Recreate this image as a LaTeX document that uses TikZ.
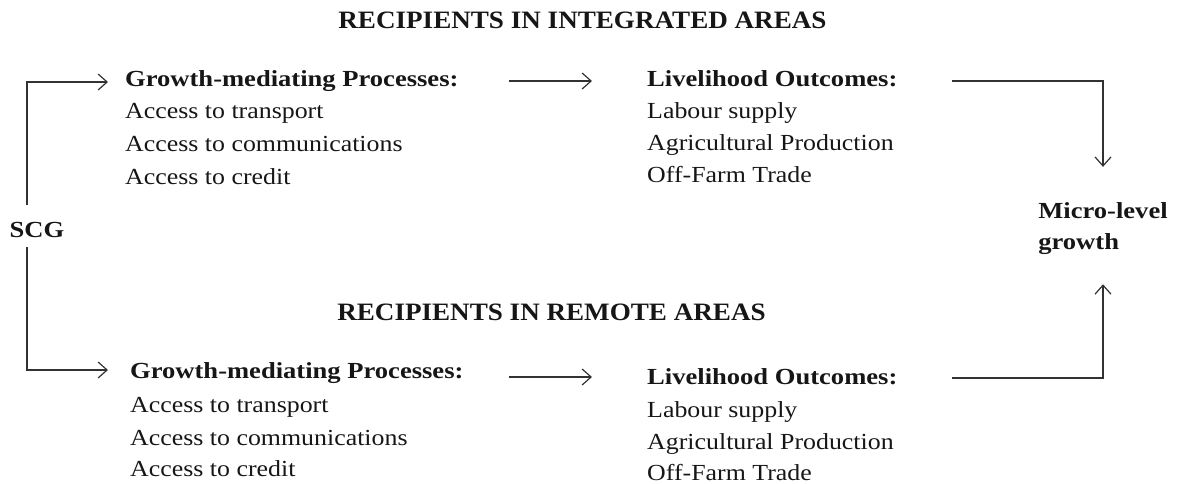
\documentclass[tikz,border=0pt]{standalone}
\usepackage{fontspec}
\setmainfont{Liberation Serif}[FakeStretch=1.125,BoldFeatures={FakeStretch=1.155}]
\newfontfamily\titlefont{Liberation Serif}[FakeStretch=1.084]
\usetikzlibrary{arrows.meta}
\definecolor{txt}{RGB}{22,22,22}
\definecolor{ln}{RGB}{50,50,50}
\tikzset{
  body/.style={anchor=base west,inner sep=0pt,text=txt,font=\fontsize{23}{28}\selectfont},
  head/.style={body,font=\fontsize{23}{28}\selectfont\bfseries},
  ttl/.style={anchor=base,inner sep=0pt,text=txt,font=\titlefont\fontsize{25}{30}\selectfont\bfseries},
  arr/.style={draw=ln,line width=1.3pt,-{Straight Barb[length=9pt,width=16pt,line width=1.2pt]}},
}
\begin{document}
\begin{tikzpicture}[x=1pt,y=-1pt]
\useasboundingbox (0,0) rectangle (1177,484);
% titles
\node[ttl] (t1) at (582.5,29) {RECIPIENTS IN INTEGRATED AREAS};
\node[ttl] (t2) at (551.5,320) {RECIPIENTS IN REMOTE AREAS};
% SCG
\node[head,anchor=base] (scg) at (37,237) {SCG};
\coordinate (vx) at (27,0);
% top row
\node[head] (gm1) at (125,87) {Growth-mediating Processes:};
\node[body] (gm1a) at (125,119) {Access to transport};
\node[body] (gm1b) at (125,151) {Access to communications};
\node[body] (gm1c) at (125,184) {Access to credit};
\node[head] (lo1) at (647,87) {Livelihood Outcomes:};
\node[body] (lo1a) at (647,118) {Labour supply};
\node[body] (lo1b) at (647,150) {Agricultural Production};
\node[body] (lo1c) at (647,182) {Off-Farm Trade};
% bottom row
\node[head] (gm2) at (130,378) {Growth-mediating Processes:};
\node[body] (gm2a) at (130,412) {Access to transport};
\node[body] (gm2b) at (130,445) {Access to communications};
\node[body] (gm2c) at (130,476) {Access to credit};
\node[head] (lo2) at (647,384) {Livelihood Outcomes:};
\node[body] (lo2a) at (647,417) {Labour supply};
\node[body] (lo2b) at (647,449) {Agricultural Production};
\node[body] (lo2c) at (647,480) {Off-Farm Trade};
% micro-level growth
\node[head,anchor=base] (mlA) at (1103,218) {Micro-level};
\node[head] (mlB) at ([yshift=-31pt]mlA.base west) {growth};
% connectors
\draw[arr,shorten <=17pt,shorten >=17pt] (scg.north -| vx) |- ([yshift=5pt]gm1.base west);
\draw[arr,shorten <=10pt,shorten >=22pt] (scg.south -| vx) |- ([yshift=8pt]gm2.base west);
\draw[arr,shorten <=50pt,shorten >=55pt] ([yshift=6pt]gm1.base east) -- ([yshift=6pt]lo1.base west);
\draw[arr,shorten <=45pt,shorten >=55pt] ([yshift=1pt]gm2.base east) -- ([yshift=7pt]lo2.base west);
\draw[arr,shorten <=54pt,shorten >=35pt] ([yshift=6pt]lo1.base east) -| (mlA.north);
\draw[arr,shorten <=54pt,shorten >=30pt] ([yshift=6pt]lo2.base east) -| (mlB.south -| mlA.north);
\end{tikzpicture}
\end{document}
